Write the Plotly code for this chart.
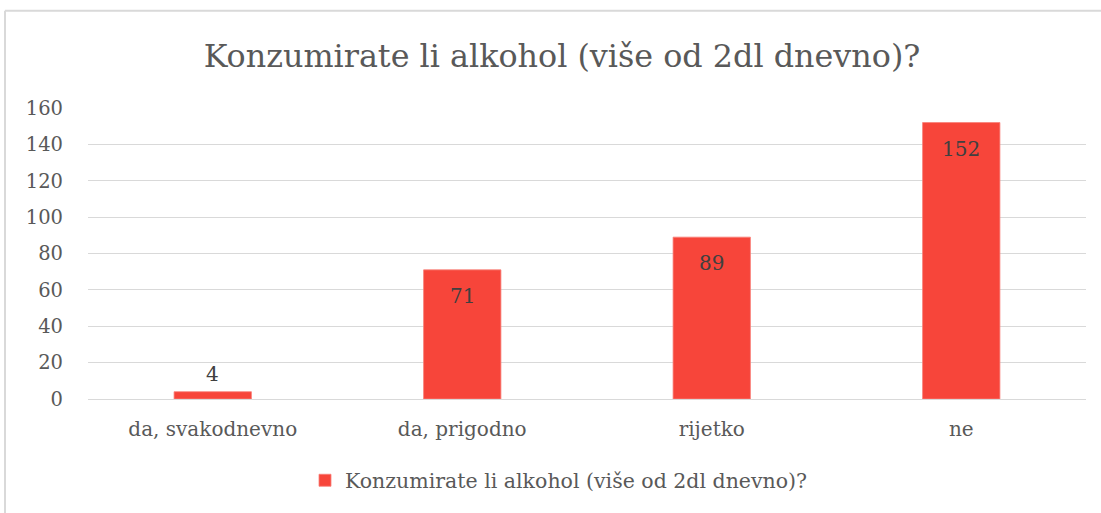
import plotly.graph_objects as go

categories = ["da, svakodnevno", "da, prigodno", "rijetko", "ne"]
values = [4, 71, 89, 152]
series_name = "Konzumirate li alkohol (više od 2dl dnevno)?"
title_text = "Konzumirate li alkohol (više od 2dl dnevno)?"
y_ticks = [0, 20, 40, 60, 80, 100, 120, 140, 160]

FONT = "DejaVu Serif"
BAR = "#F7453A"

fig = go.Figure()
fig.add_trace(go.Bar(
    x=categories, y=values, name=series_name,
    marker=dict(color=BAR, line=dict(color="#F98078", width=0.8)),
    showlegend=True,
))

for c, v in zip(categories, values):
    outside = v < 20
    fig.add_annotation(x=c, y=v, text=str(v), showarrow=False, yanchor="middle",
                       yshift=18 if outside else -26,
                       font=dict(family=FONT, size=20, color="#404040"))

L, R, T, B = 88, 15, 108, 112
W, H = 1101, 513
pw = W - L - R
ph = H - T - B

def px_x(x):
    return (x - L) / pw

def px_y(y):
    return (H - B - y) / ph

fig.update_layout(
    width=W, height=H,
    margin=dict(l=L, r=R, t=T, b=B),
    paper_bgcolor="white", plot_bgcolor="white",
    bargap=0.69,
    title=dict(text=title_text, x=562 / W, xanchor="center", y=1 - 56 / H, yanchor="middle",
               font=dict(family=FONT, size=31.8, color="#595959")),
    xaxis=dict(showgrid=False, showline=False, ticks="", ticklabelstandoff=16,
               tickfont=dict(family=FONT, size=20, color="#595959")),
    yaxis=dict(range=[0, 160], tickvals=y_ticks, showgrid=True, gridcolor="#D9D9D9", gridwidth=1.3,
               zeroline=True, zerolinecolor="#D9D9D9", zerolinewidth=1.3, showline=False, ticks="",
               ticklabelstandoff=24,
               tickfont=dict(family=FONT, size=19.5, color="#595959")),
    legend=dict(orientation="h", x=px_x(559), xanchor="center", y=px_y(483), yanchor="middle",
                font=dict(family=FONT, size=20.5, color="#595959"), itemwidth=30),
    shapes=[
        dict(type="line", xref="paper", yref="paper", x0=px_x(5), x1=px_x(1110), y0=px_y(10), y1=px_y(10),
             line=dict(color="#D9D9D9", width=2)),
        dict(type="line", xref="paper", yref="paper", x0=px_x(5), x1=px_x(5), y0=px_y(10), y1=px_y(520),
             line=dict(color="#D9D9D9", width=2)),
    ],
)

fig.write_html("out.html", config={"displayModeBar": False},
               post_script="document.body.style.margin='0';")
